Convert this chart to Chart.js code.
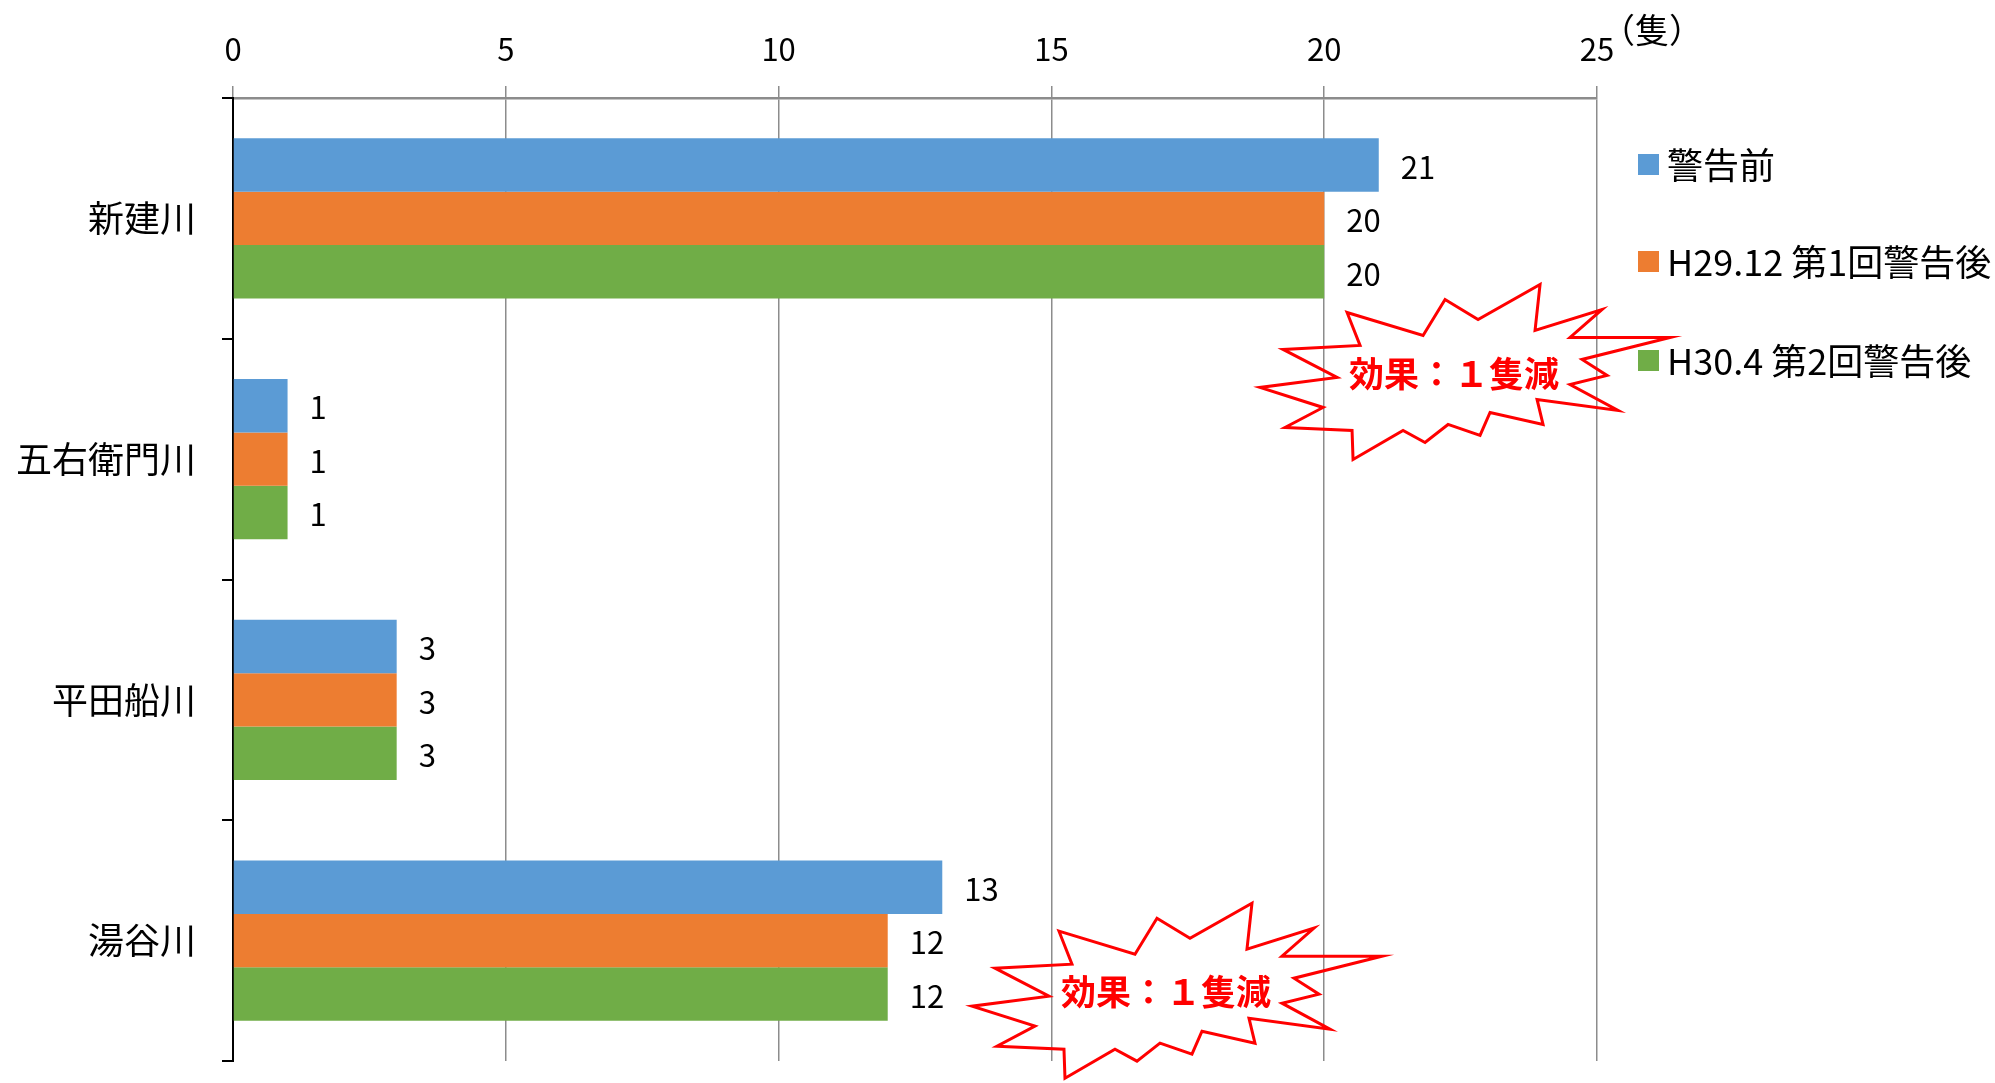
<!DOCTYPE html>
<html lang="ja">
<head>
<meta charset="utf-8">
<script src="https://cdn.jsdelivr.net/npm/chart.js@4/dist/chart.umd.min.js"></script>
<style>
  html, body { margin: 0; padding: 0; background: #fff; overflow: hidden; }
  #wrap { width: 1995px; height: 1083px; }
  canvas { display: block; }
</style>
</head>
<body>
<div id="wrap"><canvas id="chartShip" width="1995" height="1083"></canvas></div>
<script>
// カテゴリ（河川）
const rivers = ['新建川', '五右衛門川', '平田船川', '湯谷川'];
// 系列名
const seriesNames = ['警告前', 'H29.12 第1回警告後', 'H30.4 第2回警告後'];
// 隻数
const beforeWarn = [21, 1, 3, 13];
const afterFirst = [20, 1, 3, 12];
const afterSecond = [20, 1, 3, 12];
// 目盛り
const xTicks = [0, 5, 10, 15, 20, 25];
const unitLabel = '（隻）';
const effectText = '効果：１隻減';

const colors = ['#5B9BD5', '#ED7D31', '#70AD47'];
const jpFont = '"Noto Sans CJK JP", "Noto Sans", sans-serif';

//値ラベル
const valueLabels = {
    id: 'valueLabels',
    afterDatasetsDraw(chart){
        const ctx = chart.ctx;
        ctx.save();
        ctx.font = '31px ' + jpFont;
        ctx.fillStyle = '#000';
        ctx.textAlign = 'left';
        ctx.textBaseline = 'middle';
        chart.data.datasets.forEach((ds, i) => {
            chart.getDatasetMeta(i).data.forEach((bar, j) => {
                ctx.fillText(ds.data[j], bar.x + 22, bar.y + 2);
            });
        });
        ctx.restore();
    }
};

//凡例と単位
const sideLegend = {
    id: 'sideLegend',
    afterDraw(chart){
        const ctx = chart.ctx;
        const rowsY = [164, 261, 360];
        ctx.save();
        ctx.font = '36px ' + jpFont;
        ctx.textBaseline = 'middle';
        ctx.textAlign = 'left';
        chart.data.datasets.forEach((ds, i) => {
            ctx.fillStyle = ds.backgroundColor;
            ctx.fillRect(1638, rowsY[i] - 10, 21, 21);
            ctx.fillStyle = '#000';
            ctx.fillText(ds.label, 1667, rowsY[i] + 1);
        });
        // 単位
        const xs = chart.scales.x;
        ctx.font = '34px ' + jpFont;
        ctx.fillText(unitLabel, xs.right + 4, 30);
        ctx.restore();
    }
};

//爆発マーク
const starShape = [[-107,-60],[-31,-37],[-9,-73],[24,-53],[86,-88],[81,-42],[148,-63],[116,-35],
    [216,-35],[128,-13],[153,3],[116,12],[164,38],[83,27],[89,52],[36,40],[26,63],[-6,52],
    [-29,70],[-51,58],[-101,87],[-102,58],[-169,55],[-131,35],[-194,15],[-117,5],[-171,-23],[-94,-27]];
const burst = {
    id: 'burst',
    afterDraw(chart, args, opts){
        const ctx = chart.ctx;
        const xs = chart.scales.x, ys = chart.scales.y;
        const step = ys.getPixelForValue(1) - ys.getPixelForValue(0);
        opts.marks.forEach(m => {
            const cx = xs.getPixelForValue(m.x);
            const cy = ys.getPixelForValue(m.cat) + m.shift * step;
            ctx.save();
            ctx.beginPath();
            starShape.forEach((p, k) => {
                const px = cx + p[0], py = cy + p[1];
                k ? ctx.lineTo(px, py) : ctx.moveTo(px, py);
            });
            ctx.closePath();
            ctx.strokeStyle = '#FF0000';
            ctx.lineWidth = 3;
            ctx.lineJoin = 'miter';
            ctx.stroke();
            ctx.fillStyle = '#FF0000';
            ctx.font = 'bold 35px ' + jpFont;
            ctx.textAlign = 'center';
            ctx.textBaseline = 'middle';
            ctx.fillText(effectText, cx, cy + 1);
            ctx.restore();
        });
    }
};

//チャート描画
window.addEventListener('DOMContentLoaded', () => {
    const ctx = document.getElementById('chartShip').getContext('2d');
    new Chart(ctx, {
        type: 'bar',
        data: {
            labels: rivers,
            datasets: [beforeWarn, afterFirst, afterSecond].map((d, i) => ({
                label: seriesNames[i],
                data: d,
                backgroundColor: colors[i],
                categoryPercentage: 0.666,
                barPercentage: 1.0
            }))
        },
        options: {
            indexAxis: 'y',
            responsive: false,
            animation: false,
            layout: { padding: { left: 0, right: 398, top: 0, bottom: 22 } },
            scales: {
                x: {
                    position: 'top',
                    min: 0,
                    max: 25,
                    afterBuildTicks: (s) => { s.ticks = xTicks.map(v => ({ value: v })); },
                    afterFit: (s) => { s.height = 98; s.paddingLeft = 0; s.paddingRight = 0; },
                    grid: { color: '#8C8C8C', lineWidth: 1.5, tickLength: 12 },
                    border: { color: '#8C8C8C', width: 2.5 },
                    ticks: { color: '#000', padding: 18, font: { size: 31, family: jpFont } }
                },
                y: {
                    afterFit: (s) => { s.width = 233; s.paddingTop = 0; s.paddingBottom = 0; },
                    grid: { drawOnChartArea: false, color: '#000', lineWidth: 2, tickLength: 11, offset: true },
                    border: { color: '#000', width: 2 },
                    ticks: { color: '#000', padding: 26, font: { size: 36, family: jpFont } }
                }
            },
            plugins: {
                legend: { display: false },
                tooltip: { enabled: false },
                burst: {
                    marks: [
                        { x: 22.38, cat: 0, shift: 0.64 },
                        { x: 17.1, cat: 3, shift: 0.21 }
                    ]
                }
            }
        },
        plugins: [valueLabels, sideLegend, burst]
    });
});
</script>
</body>
</html>
